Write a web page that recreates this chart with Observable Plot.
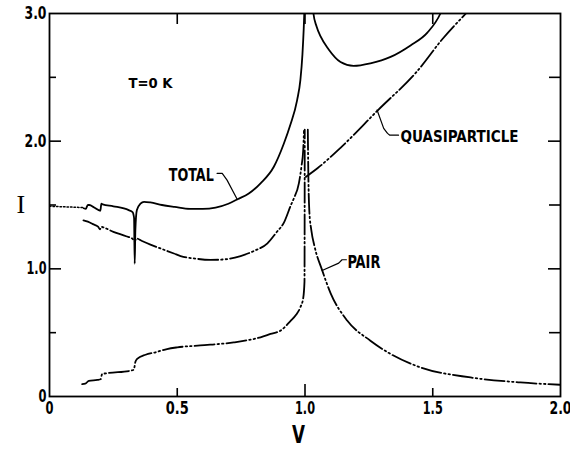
<!DOCTYPE html>
<html>
<head>
<meta charset="utf-8">
<script src="https://cdn.jsdelivr.net/npm/d3@7"></script>
<script src="https://cdn.jsdelivr.net/npm/@observablehq/plot@0.6"></script>
<style>
  html, body { margin: 0; padding: 0; background: #fff; }
  #chart { width: 570px; height: 453px; }
</style>
</head>
<body>
<div id="chart"></div>
<script>
// ---------- data ----------
const totalDotV = [0, 0.133];
const totalDotI = [1.49, 1.48];

const totalLeftV = [0.134, 0.142, 0.150, 0.156, 0.175, 0.199, 0.203, 0.208, 0.25, 0.31, 0.325, 0.331, 0.3335, 0.336, 0.342, 0.356, 0.37, 0.395, 0.44, 0.49, 0.55, 0.60, 0.65, 0.70, 0.736, 0.78, 0.826, 0.878, 0.917, 0.943, 0.969, 0.982, 0.99, 0.995, 0.999];
const totalLeftI = [1.475, 1.47, 1.50, 1.50, 1.48, 1.455, 1.51, 1.505, 1.49, 1.46, 1.445, 1.40, 1.04, 1.30, 1.46, 1.51, 1.525, 1.52, 1.50, 1.485, 1.47, 1.47, 1.48, 1.51, 1.545, 1.59, 1.67, 1.80, 1.98, 2.13, 2.32, 2.48, 2.68, 2.88, 3.10];

const totalRightV = [1.025, 1.033, 1.045, 1.061, 1.092, 1.139, 1.19, 1.256, 1.335, 1.413, 1.479, 1.53, 1.55];
const totalRightI = [3.20, 3.00, 2.90, 2.82, 2.72, 2.62, 2.59, 2.61, 2.66, 2.75, 2.85, 3.00, 3.10];

const quasiLeftV = [0.133, 0.15, 0.17, 0.19, 0.198, 0.202, 0.21, 0.25, 0.30, 0.325, 0.333, 0.34, 0.36, 0.395, 0.434, 0.487, 0.513, 0.57, 0.63, 0.69, 0.748, 0.80, 0.853, 0.89, 0.917, 0.945, 0.956, 0.976, 0.986, 0.993, 0.996];
const quasiLeftI = [1.38, 1.37, 1.35, 1.33, 1.31, 1.33, 1.325, 1.29, 1.255, 1.235, 1.215, 1.238, 1.22, 1.19, 1.16, 1.12, 1.10, 1.08, 1.07, 1.075, 1.10, 1.14, 1.20, 1.29, 1.36, 1.50, 1.55, 1.67, 1.80, 1.93, 2.08];

const quasiRightV = [1.003, 1.05, 1.14, 1.284, 1.44, 1.538, 1.63];
const quasiRightI = [1.72, 1.79, 1.95, 2.24, 2.55, 2.80, 3.00];

const pairLeftV = [0.128, 0.14, 0.154, 0.187, 0.2, 0.206, 0.232, 0.317, 0.33, 0.336, 0.343, 0.376, 0.415, 0.46, 0.5, 0.59, 0.721, 0.826, 0.865, 0.904, 0.943, 0.965, 0.982, 0.993, 0.998, 0.999];
const pairLeftI = [0.097, 0.10, 0.123, 0.13, 0.135, 0.176, 0.184, 0.202, 0.21, 0.27, 0.294, 0.327, 0.346, 0.372, 0.385, 0.40, 0.424, 0.464, 0.49, 0.516, 0.59, 0.64, 0.70, 0.77, 0.90, 2.09];

const pairRightV = [1.011, 1.013, 1.017, 1.025, 1.038, 1.067, 1.1, 1.165, 1.256, 1.335, 1.452, 1.648, 1.843, 2.0];
const pairRightI = [2.09, 1.75, 1.45, 1.30, 1.17, 0.99, 0.81, 0.595, 0.437, 0.333, 0.228, 0.149, 0.11, 0.092];

// labels and their leader lines
const labelText = ["TOTAL", "QUASIPARTICLE", "PAIR", "T=0 K"];
const labelV = [0.643, 1.374, 1.166, 0.395];
const labelI = [1.734, 2.035, 1.053, 2.449];

const totalLeaderV = [0.656, 0.676, 0.695, 0.735];
const totalLeaderI = [1.747, 1.747, 1.695, 1.543];
const quasiLeaderV = [1.366, 1.332, 1.323, 1.308, 1.282];
const quasiLeaderI = [2.047, 2.047, 2.061, 2.10, 2.244];
const pairLeaderV = [1.162, 1.145, 1.132, 1.067];
const pairLeaderI = [1.071, 1.071, 1.045, 0.987];

// axis ticks
const xTickLabels = [0, 0.5, 1.0, 1.5, 2.0];
const yTickLabels = [0, 1.0, 2.0, 3.0];
const xMajor = [1.0];
const xMinor = [0.5, 1.5];
const yMajor = [1.0, 2.0];
const yMinor = [0.5, 1.5, 2.5];

// ---------- helpers ----------
const W = 570, H = 453, mL = 49, mR = 10, mT = 13, mB = 57;
const fw = W - mL - mR, fh = H - mT - mB;
const pts = (V, I) => V.map((v, k) => ({v, i: I[k]}));
const lab = k => [{t: labelText[k], v: labelV[k], i: labelI[k]}];
const fmt = d => d === 0 ? "0" : d.toFixed(1);
const dashDot = "20,3,1.5,3,1.5,3";
const boldFont = "'Liberation Sans Narrow', 'DejaVu Sans Condensed', 'Liberation Sans', sans-serif";

const curve = (V, I, extra = {}) =>
  Plot.line(pts(V, I), {x: "v", y: "i", stroke: "black", strokeWidth: 1.8, clip: true, curve: "monotone-x", ...extra});

// inward ticks: a tick spanning the frame, inset down to the wanted length
const tickBottom = (vals, len) => Plot.tickX(vals, {x: d => d, insetTop: fh - len, stroke: "black", strokeWidth: 1.6});
const tickTop = (vals, len) => Plot.tickX(vals, {x: d => d, insetBottom: fh - len, stroke: "black", strokeWidth: 1.6});
const tickLeft = (vals, len) => Plot.tickY(vals, {y: d => d, insetRight: fw - len, stroke: "black", strokeWidth: 1.6});
const tickRight = (vals, len) => Plot.tickY(vals, {y: d => d, insetLeft: fw - len, stroke: "black", strokeWidth: 1.6});

const labelMark = (k, anchor, size) => Plot.text(lab(k), {
  x: "v", y: "i", text: "t", textAnchor: anchor, fontSize: size, fontWeight: "bold", fill: "black"
});

const svg = Plot.plot({
  width: W,
  height: H,
  marginLeft: mL,
  marginRight: mR,
  marginTop: mT,
  marginBottom: mB,
  style: {background: "white", fontFamily: boldFont, fontWeight: "bold", color: "black"},
  x: {domain: [0, 2]},
  y: {domain: [0, 3]},
  marks: [
    // ticks (inward)
    tickBottom(xMajor, 12),
    tickBottom(xMinor, 8),
    tickTop(xMinor.concat(xMajor), 11),
    tickLeft(yMajor, 12),
    tickLeft(yMinor, 7),
    tickRight(yMajor, 12),
    tickRight(yMinor, 11),
    // tick labels
    Plot.axisX(xTickLabels, {anchor: "bottom", tickSize: 0, tickPadding: 5, tickFormat: fmt, fontSize: 17, fontWeight: "bold", label: null}),
    Plot.axisY(yTickLabels, {anchor: "left", tickSize: 0, tickPadding: 3, tickFormat: fmt, fontSize: 17, fontWeight: "bold", label: null}),
    Plot.frame({stroke: "black", strokeWidth: 1.8}),
    // curves
    curve(totalDotV, totalDotI, {strokeDasharray: "1.5,2", strokeWidth: 1.5, curve: "linear"}),
    curve(totalLeftV, totalLeftI),
    curve(totalRightV, totalRightI),
    curve(quasiLeftV, quasiLeftI, {strokeDasharray: dashDot}),
    curve(quasiRightV, quasiRightI, {strokeDasharray: dashDot}),
    curve(pairLeftV, pairLeftI, {strokeDasharray: dashDot}),
    curve(pairRightV, pairRightI, {strokeDasharray: dashDot}),
    // leaders
    curve(totalLeaderV, totalLeaderI, {strokeWidth: 1.2, curve: "linear"}),
    curve(quasiLeaderV, quasiLeaderI, {strokeWidth: 1.2, curve: "linear"}),
    curve(pairLeaderV, pairLeaderI, {strokeWidth: 1.2, curve: "linear"}),
    // labels
    labelMark(0, "end", 18),
    labelMark(1, "start", 16),
    labelMark(2, "start", 18),
    labelMark(3, "middle", 14),
    // axis titles
    Plot.text(["V"], {x: [0.975], frameAnchor: "bottom", dy: 46, text: d => d, fontSize: 24, fontWeight: "bold", fill: "black"}),
    Plot.text(["I"], {y: [1.506], frameAnchor: "left", dx: -33, text: d => d, fontSize: 26, fontWeight: "normal", fontFamily: "'Liberation Serif', 'DejaVu Serif', serif", fill: "black"})
  ]
});

// fit the condensed lettering to the reference widths
const textWidths = {"TOTAL": 45, "QUASIPARTICLE": 118, "PAIR": 33, "T=0 K": 44, "3.0": 22, "2.0": 22, "1.0": 20, "0.5": 23, "1.5": 20, "0": 8, "V": 13};
d3.select(svg).selectAll("text").each(function () {
  const t = this.textContent;
  if (textWidths[t] !== undefined) {
    this.setAttribute("textLength", textWidths[t]);
    this.setAttribute("lengthAdjust", "spacingAndGlyphs");
  }
});

document.getElementById("chart").appendChild(svg);
</script>
</body>
</html>
